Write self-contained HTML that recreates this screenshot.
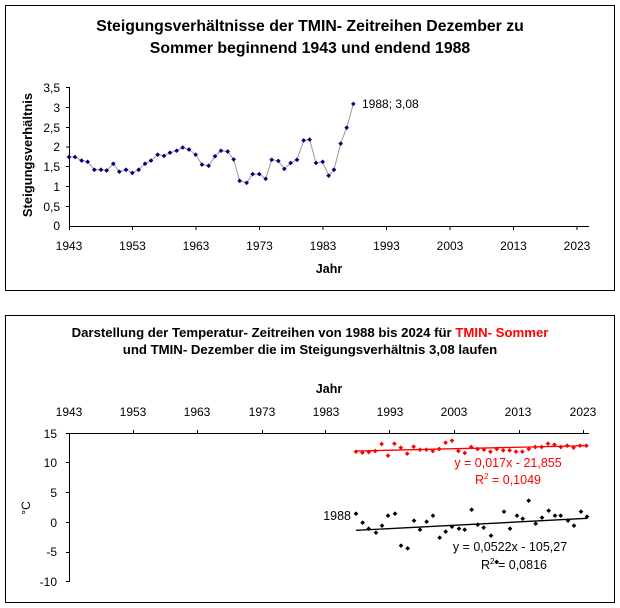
<!DOCTYPE html>
<html><head><meta charset="utf-8"><style>
body{margin:0;background:#fff}
svg{display:block;font-family:"Liberation Sans",Arial,sans-serif}
</style></head><body>
<svg width="620" height="608" viewBox="0 0 620 608" xmlns="http://www.w3.org/2000/svg">
<defs>
<marker id="mb" markerUnits="userSpaceOnUse" markerWidth="16" markerHeight="16" refX="8" refY="8" viewBox="0 0 16 16"><path d="M8 1L15 8L8 15L1 8Z" fill="#000080"/></marker>
<marker id="mr" markerUnits="userSpaceOnUse" markerWidth="16" markerHeight="16" refX="8" refY="8" viewBox="0 0 16 16"><path d="M8 1L15 8L8 15L1 8Z" fill="#ff0000"/></marker>
<marker id="mk" markerUnits="userSpaceOnUse" markerWidth="16" markerHeight="16" refX="8" refY="8" viewBox="0 0 16 16"><path d="M8 1L15 8L8 15L1 8Z" fill="#000"/></marker>
</defs>
<rect x="5.5" y="5.5" width="609" height="285" fill="#fff" stroke="#000" stroke-width="1"/>
<rect x="5.5" y="315.5" width="609" height="287" fill="#fff" stroke="#000" stroke-width="1"/>
<g font-weight="bold" font-size="15.8" text-anchor="middle">
<text x="310" y="31">Steigungsverhältnisse der TMIN- Zeitreihen Dezember zu</text>
<text x="310" y="53">Sommer beginnend 1943 und endend 1988</text>
</g>
<g stroke="#000" stroke-width="1" fill="none">
<line x1="69.5" y1="87" x2="69.5" y2="226"/>
<line x1="69" y1="226.5" x2="589" y2="226.5"/>
<line x1="66" y1="87.5" x2="69" y2="87.5"/><line x1="66" y1="107.5" x2="69" y2="107.5"/><line x1="66" y1="127.5" x2="69" y2="127.5"/><line x1="66" y1="147" x2="69" y2="147"/><line x1="66" y1="166.5" x2="69" y2="166.5"/><line x1="66" y1="186.5" x2="69" y2="186.5"/><line x1="66" y1="206.5" x2="69" y2="206.5"/>
<line x1="132.5" y1="226" x2="132.5" y2="230"/><line x1="196" y1="226" x2="196" y2="230"/><line x1="259.5" y1="226" x2="259.5" y2="230"/><line x1="323" y1="226" x2="323" y2="230"/><line x1="386.5" y1="226" x2="386.5" y2="230"/><line x1="450" y1="226" x2="450" y2="230"/><line x1="513.5" y1="226" x2="513.5" y2="230"/><line x1="577" y1="226" x2="577" y2="230"/><line x1="69.5" y1="226" x2="69.5" y2="230"/>
</g>
<g font-size="12" text-anchor="end">
<text x="60" y="92">3,5</text><text x="60" y="112">3</text><text x="60" y="132">2,5</text><text x="60" y="151">2</text><text x="60" y="171">1,5</text><text x="60" y="191">1</text><text x="60" y="211">0,5</text><text x="60" y="230">0</text>
</g>
<g font-size="12" text-anchor="middle">
<text x="69" y="250">1943</text><text x="132.5" y="250">1953</text><text x="196" y="250">1963</text><text x="259.5" y="250">1973</text><text x="323" y="250">1983</text><text x="386.5" y="250">1993</text><text x="450" y="250">2003</text><text x="513.5" y="250">2013</text><text x="577" y="250">2023</text>
</g>
<text x="329" y="273" font-size="12.5" font-weight="bold" text-anchor="middle">Jahr</text>
<text transform="translate(32,155) rotate(-90)" font-size="13" font-weight="bold" text-anchor="middle">Steigungsverhältnis</text>
<text x="362" y="108" font-size="12">1988; 3,08</text>
<g transform="translate(0,70) scale(0.33333)">
<polyline fill="none" stroke="#999" stroke-width="3" marker-start="url(#mb)" marker-mid="url(#mb)" marker-end="url(#mb)" points="207,261.1 225,261.1 245,271.8 263,275.4 283,299.2 303,299.2 320,301.5 340,281.3 358,305.1 378,299.2 397,308.7 416,299.2 435,281.3 453,271.8 473,254 492,257.5 510,248 530,242.1 548,232.6 567,238.5 587,254 606,283.7 626,287.3 645,258.7 663,242.1 683,244.5 701,268.3 719,332.5 740,338.4 758,312.2 778,312.2 797,326.5 815,269.4 835,273 853,296.8 872,278.9 891,269.4 911,211.2 929,208.8 948,278.9 968,275.4 986,317 1002,299.2 1022,220.7 1040,173.1 1060,101.8"/>
</g>

<g font-weight="bold" font-size="13.2" text-anchor="middle">
<text x="310" y="337">Darstellung der Temperatur- Zeitreihen von 1988 bis 2024 für <tspan fill="#ff0000">TMIN- Sommer</tspan></text>
<text x="310" y="354">und TMIN- Dezember die im Steigungsverhältnis 3,08 laufen</text>
<text x="329" y="393" font-size="12.5">Jahr</text>
</g>
<g font-size="12" text-anchor="middle">
<text x="69" y="416">1943</text><text x="133" y="416">1953</text><text x="197" y="416">1963</text><text x="262" y="416">1973</text><text x="326" y="416">1983</text><text x="390" y="416">1993</text><text x="454" y="416">2003</text><text x="518" y="416">2013</text><text x="583" y="416">2023</text>
</g>
<g stroke="#000" fill="none">
<line x1="69.5" y1="433" x2="69.5" y2="582"/>
<line x1="69" y1="433.5" x2="589" y2="433.5"/>
<line x1="66" y1="433.5" x2="72" y2="433.5"/><line x1="66" y1="462.5" x2="69" y2="462.5"/><line x1="66" y1="492.5" x2="69" y2="492.5"/><line x1="66" y1="522.5" x2="69" y2="522.5"/><line x1="66" y1="552.5" x2="69" y2="552.5"/><line x1="66" y1="581.5" x2="69" y2="581.5"/>
<line x1="133.5" y1="430" x2="133.5" y2="433"/><line x1="197.5" y1="430" x2="197.5" y2="433"/><line x1="262.5" y1="430" x2="262.5" y2="433"/><line x1="325.5" y1="430" x2="325.5" y2="433"/><line x1="389.5" y1="430" x2="389.5" y2="433"/><line x1="454.5" y1="430" x2="454.5" y2="433"/><line x1="519.5" y1="430" x2="519.5" y2="433"/><line x1="583.5" y1="430" x2="583.5" y2="433"/>
</g>
<g font-size="12" text-anchor="end">
<text x="57" y="438">15</text><text x="57" y="467">10</text><text x="57" y="497">5</text><text x="57" y="527">0</text><text x="57" y="556">-5</text><text x="57" y="586">-10</text>
</g>
<text transform="translate(30,508) rotate(-90)" font-size="12" text-anchor="middle">°C</text>
<g transform="translate(300,420) scale(0.33333)">
<line x1="168" y1="93" x2="862" y2="77" stroke="#ff0000" stroke-width="4"/>
<line x1="168" y1="331" x2="862" y2="295" stroke="#000" stroke-width="4"/>
<polyline fill="none" stroke="none" marker-start="url(#mr)" marker-mid="url(#mr)" marker-end="url(#mr)" points="168,95 187.2,98 206.4,96 225.6,93 244.8,72 264,107 283.2,71 302.4,83 321.6,101 340.8,80 360,89 379.2,89 398.4,93 417.6,87 436.8,68 456,62 475.2,93 494.4,99 513.6,81 532.8,87 552,89 571.2,95 590.4,87 609.6,91 628.8,91 648,95 667.2,95 686.4,87 705.6,81 724.8,81 744,71 763.2,74 782.4,81 801.6,77 820.8,83 840,77 859.2,77"/>
<polyline fill="none" stroke="none" marker-start="url(#mk)" marker-mid="url(#mk)" marker-end="url(#mk)" points="168,281 188,308 206,326 228,338 246,317 264,287 285,281 303,377 323,385 342,302 360,329 380,305 399,287 419,353 437,335 456,320 477,326 494,329 515,269 533,314 551,323 573,347 590,426 612,275 630,326 651,287 668,296 686,242 707,311 726,293 746,272 765,287 782,287 804,302 822,317 843,275 861,290"/>
</g>
<g font-size="12.5" text-anchor="middle">
<text x="508" y="467" fill="#ff0000">y = 0,017x - 21,855</text>
<text x="508" y="484" fill="#ff0000">R<tspan font-size="8" dy="-5">2</tspan><tspan dy="5"> = 0,1049</tspan></text>
<text x="510" y="551">y = 0,0522x - 105,27</text>
<text x="514" y="569">R<tspan font-size="8" dy="-5">2</tspan><tspan dy="5"> = 0,0816</tspan></text>
<text x="351" y="520" text-anchor="end">1988</text>
</g>
</svg>
</body></html>
